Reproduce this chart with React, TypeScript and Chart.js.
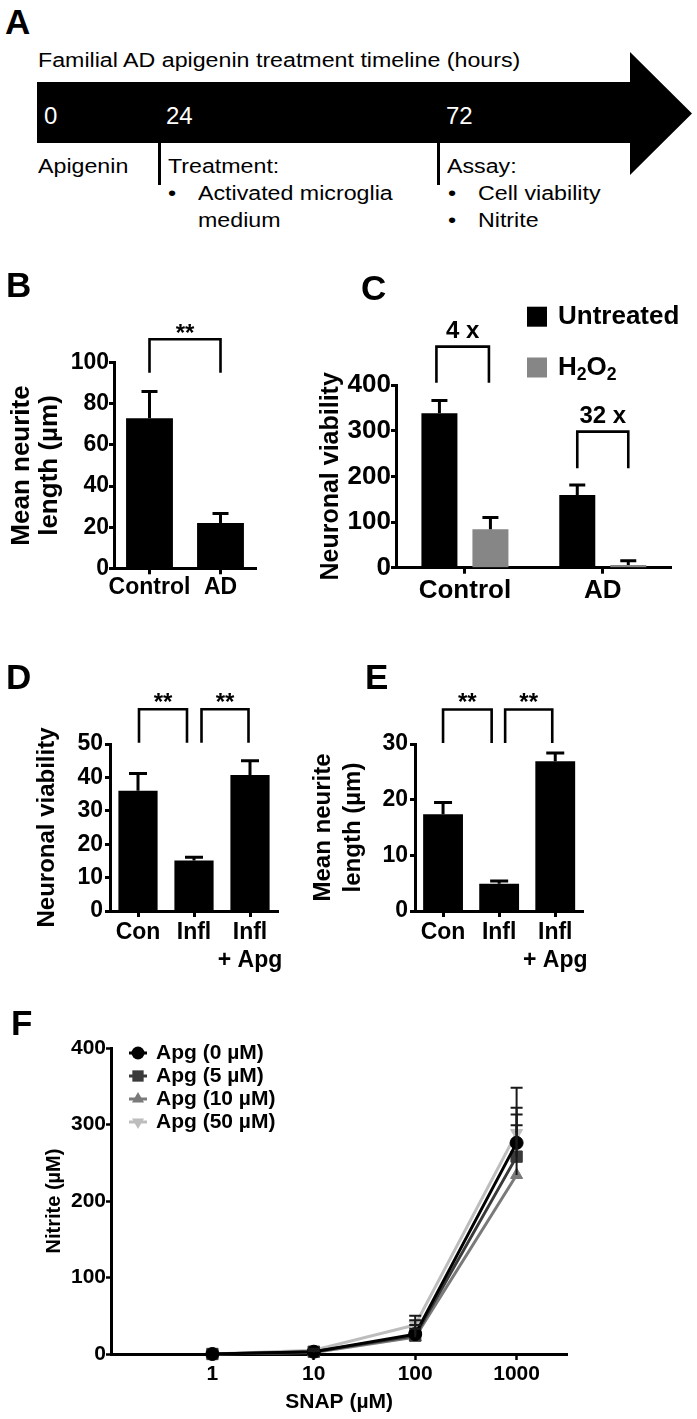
import React, { useEffect, useRef } from 'react';
import { Chart, registerables } from 'chart.js';

Chart.register(...registerables);

const FONT = '"Liberation Sans", Arial, Helvetica, sans-serif';
Chart.defaults.font.family = FONT;
const SUBSCRIPTS = '₀₁₂₃₄₅₆₇₈₉';

// ---------------- Data ----------------
const TIMELINE_TITLE = 'Familial AD apigenin treatment timeline (hours)';
const TIMELINE_HOURS = ['0', '24', '72'];

const B_CATEGORIES = ['Control', 'AD'];
const B_MEANS = [73, 22];
const B_ERR_TOPS = [86, 26.7];

const C_CATEGORIES = ['Control', 'AD'];
const C_SERIES = ['Untreated', 'H₂O₂'];
const C_UNTREATED = [338, 159];
const C_UNTREATED_ERR_TOPS = [366, 181];
const C_H2O2 = [84, 6];
const C_H2O2_ERR_TOPS = [110, 15];

const DE_CATEGORIES = ['Con', 'Infl', ['Infl', '+ Apg']];
const D_MEANS = [36, 15.1, 40.7];
const D_ERR_TOPS = [41.2, 16.1, 45];
const E_MEANS = [17.4, 4.9, 26.9];
const E_ERR_TOPS = [19.5, 5.4, 28.4];

const F_SNAP = [1, 10, 100, 1000];
const F_SERIES = ['Apg (0 µM)', 'Apg (5 µM)', 'Apg (10 µM)', 'Apg (50 µM)'];
const F_APG_0 = [0, 3, 26, 276];
const F_APG_5 = [0, 3, 24, 258];
const F_APG_10 = [0, 2, 22, 234];
const F_APG_50 = [0, 5, 38, 289];
const F_APG_0_ERR_TOPS = [0, 5, 44, 322];
const F_APG_5_ERR_TOPS = [0, 4, 38, 313];
const F_APG_10_ERR_TOPS = [0, 4, 33, 299];
const F_APG_50_ERR_TOPS = [0, 7, 50, 348];

// significance brackets (in data units)
const B_BRACKETS = [{ from: [0, 0], to: [0, 1], top: 111.4, bottom: 95.1, label: '**' }];
const C_BRACKETS = [
  { from: [0, 0], to: [1, 0], top: 484, bottom: 405, label: '4 x' },
  { from: [0, 1], to: [1, 1], top: 298, bottom: 218, label: '32 x' },
];
const D_BRACKETS = [
  { from: [0, 0], to: [0, 1], top: 60.4, bottom: 50.4, label: '**' },
  { from: [0, 1], to: [0, 2], top: 60.4, bottom: 50.4, label: '**' },
];
const E_BRACKETS = [
  { from: [0, 0], to: [0, 1], top: 36.2, bottom: 30.2, label: '**' },
  { from: [0, 1], to: [0, 2], top: 36.2, bottom: 30.2, label: '**' },
];

// ---------------- Layout ----------------
type Box = { left: number; top: number; width: number; height: number };
type Area = { left: number; top: number; right: number; bottom: number };

const B_BOX: Box = { left: 0, top: 300, width: 270, height: 300 };
const B_AREA: Area = { left: 114, top: 362.7, right: 256, bottom: 568.3 };
const C_BOX: Box = { left: 300, top: 290, width: 397, height: 310 };
const C_AREA: Area = { left: 396, top: 385, right: 671.7, bottom: 567.7 };
const D_BOX: Box = { left: 0, top: 640, width: 300, height: 340 };
const D_AREA: Area = { left: 110, top: 744, right: 278, bottom: 911 };
const E_BOX: Box = { left: 300, top: 640, width: 300, height: 340 };
const E_AREA: Area = { left: 415, top: 744, right: 583.3, bottom: 911 };
const F_BOX: Box = { left: 0, top: 1000, width: 697, height: 419 };
const F_AREA: Area = { left: 111, top: 1048, right: 567.3, bottom: 1354 };

function frameOf(box: Box, area: Area) {
  return {
    padding: { left: 0, top: area.top - box.top, right: box.left + box.width - area.right, bottom: 0 },
    yWidth: area.left - box.left,
    xHeight: box.top + box.height - area.bottom,
  };
}

const boldFont = (size: number, lineHeight = 1.2) => ({ family: FONT, size, weight: 'bold' as const, lineHeight });

// ---------------- Plugins ----------------
function drawRich(ctx: CanvasRenderingContext2D, text: string, x: number, y: number, size: number) {
  let cx = x;
  for (const ch of Array.from(text)) {
    const s = SUBSCRIPTS.indexOf(ch);
    if (s >= 0) {
      ctx.font = `bold ${size * 0.68}px ${FONT}`;
      ctx.fillText(String(s), cx, y + size * 0.3);
      cx += ctx.measureText(String(s)).width;
    } else {
      ctx.font = `bold ${size}px ${FONT}`;
      ctx.fillText(ch, cx, y);
      cx += ctx.measureText(ch).width;
    }
  }
}

function errorBarsPlugin(style: { lineWidth: number; capWidth: number; color: string }) {
  return {
    id: 'errorBars',
    afterDatasetsDraw(chart: any) {
      const ctx = chart.ctx;
      const yScale = chart.scales.y;
      chart.data.datasets.forEach((ds: any, di: number) => {
        const tops = ds.errorTops;
        if (!tops) return;
        const meta = chart.getDatasetMeta(di);
        ctx.save();
        ctx.strokeStyle = style.color;
        ctx.lineWidth = style.lineWidth;
        meta.data.forEach((el: any, i: number) => {
          const raw = ds.data[i];
          const v = typeof raw === 'number' ? raw : raw.y;
          const top = tops[i];
          if (top == null || top <= v) return;
          const x = el.x;
          const y0 = yScale.getPixelForValue(v);
          const y1 = yScale.getPixelForValue(top);
          const hw = style.capWidth / 2;
          ctx.beginPath();
          ctx.moveTo(x, y0);
          ctx.lineTo(x, y1);
          ctx.moveTo(x - hw, y1);
          ctx.lineTo(x + hw, y1);
          ctx.stroke();
        });
        ctx.restore();
      });
    },
  };
}

function bracketsPlugin(items: any[], style: { fontSize: number; labelGap: number; lineWidth: number; insets?: number[][] }) {
  return {
    id: 'brackets',
    afterDraw(chart: any) {
      const ctx = chart.ctx;
      const yScale = chart.scales.y;
      ctx.save();
      ctx.strokeStyle = '#000';
      ctx.fillStyle = '#000';
      ctx.lineWidth = style.lineWidth;
      ctx.font = `bold ${style.fontSize}px ${FONT}`;
      ctx.textAlign = 'center';
      ctx.textBaseline = 'alphabetic';
      items.forEach((it, k) => {
        const ins = style.insets ? style.insets[k] : [0, 0];
        const xa = chart.getDatasetMeta(it.from[0]).data[it.from[1]].x + ins[0];
        const xb = chart.getDatasetMeta(it.to[0]).data[it.to[1]].x - ins[1];
        const yt = yScale.getPixelForValue(it.top);
        const yb = yScale.getPixelForValue(it.bottom);
        ctx.beginPath();
        ctx.moveTo(xa, yb);
        ctx.lineTo(xa, yt);
        ctx.lineTo(xb, yt);
        ctx.lineTo(xb, yb);
        ctx.stroke();
        ctx.fillText(it.label, (xa + xb) / 2, yt - style.labelGap);
      });
      ctx.restore();
    },
  };
}

function boxLegendPlugin(cfg: { x: number; y: number; rowGap: number; box: number; textGap: number; fontSize: number }) {
  return {
    id: 'boxLegend',
    afterDraw(chart: any) {
      const ctx = chart.ctx;
      ctx.save();
      chart.data.datasets.forEach((ds: any, i: number) => {
        const cy = cfg.y + i * cfg.rowGap;
        ctx.fillStyle = ds.backgroundColor;
        ctx.fillRect(cfg.x, cy - cfg.box / 2, cfg.box, cfg.box);
        ctx.fillStyle = '#000';
        ctx.textAlign = 'left';
        ctx.textBaseline = 'middle';
        drawRich(ctx, ds.label, cfg.x + cfg.textGap, cy, cfg.fontSize);
      });
      ctx.restore();
    },
  };
}

function drawMarker(ctx: CanvasRenderingContext2D, style: string, r: number, rot: number, x: number, y: number, color: string) {
  ctx.save();
  ctx.fillStyle = color;
  ctx.translate(x, y);
  ctx.rotate((rot * Math.PI) / 180);
  ctx.beginPath();
  if (style === 'circle') {
    ctx.arc(0, 0, r, 0, Math.PI * 2);
  } else if (style === 'rect') {
    const s = r * Math.SQRT1_2;
    ctx.rect(-s, -s, 2 * s, 2 * s);
  } else {
    for (let k = 0; k < 3; k++) {
      const a = (k * 2 * Math.PI) / 3;
      const px = Math.sin(a) * r;
      const py = -Math.cos(a) * r;
      if (k === 0) ctx.moveTo(px, py);
      else ctx.lineTo(px, py);
    }
    ctx.closePath();
  }
  ctx.fill();
  ctx.restore();
}

function lineLegendPlugin(cfg: { dx: number; dy: number; rowGap: number; segment: number; textGap: number; fontSize: number }) {
  return {
    id: 'lineLegend',
    afterDraw(chart: any) {
      const ctx = chart.ctx;
      const { left, top } = chart.chartArea;
      ctx.save();
      chart.data.datasets.forEach((ds: any, i: number) => {
        const cx = left + cfg.dx;
        const cy = top + cfg.dy + i * cfg.rowGap;
        ctx.strokeStyle = ds.borderColor;
        ctx.lineWidth = 3;
        ctx.beginPath();
        ctx.moveTo(cx - cfg.segment / 2, cy);
        ctx.lineTo(cx + cfg.segment / 2, cy);
        ctx.stroke();
        drawMarker(ctx, ds.pointStyle, ds.pointRadius, ds.pointRotation || 0, cx, cy, ds.borderColor);
        ctx.fillStyle = '#000';
        ctx.textAlign = 'left';
        ctx.textBaseline = 'middle';
        ctx.font = `bold ${cfg.fontSize}px ${FONT}`;
        ctx.fillText(ds.label, cx + cfg.textGap, cy);
      });
      ctx.restore();
    },
  };
}

// ---------------- Chart configs ----------------
function barConfig(p: {
  box: Box; area: Area; labels: any[]; datasets: any[];
  yMax: number; yStep: number; tickSize: number; xPad: number; yPad: number;
  title: string | string[]; titleSize: number; titleLH: number; titlePad: number;
  plugins: any[];
}) {
  const f = frameOf(p.box, p.area);
  return {
    type: 'bar',
    data: { labels: p.labels, datasets: p.datasets },
    options: {
      responsive: false,
      animation: false,
      devicePixelRatio: 1,
      events: [],
      layout: { padding: f.padding },
      plugins: { legend: { display: false }, tooltip: { enabled: false } },
      scales: {
        x: {
          type: 'category',
          offset: true,
          z: 1,
          grid: { display: true, drawOnChartArea: false, drawTicks: true, offset: false, tickLength: 6, tickWidth: 3, tickColor: '#000', color: '#000' },
          border: { display: true, color: '#000', width: 3 },
          ticks: { color: '#000', font: boldFont(p.tickSize), padding: p.xPad, maxRotation: 0, minRotation: 0, autoSkip: false },
          afterFit: (s: any) => { s.height = f.xHeight; },
        },
        y: {
          min: 0,
          max: p.yMax,
          ticks: { stepSize: p.yStep, color: '#000', font: boldFont(p.tickSize), padding: p.yPad },
          grid: { display: true, drawOnChartArea: false, drawTicks: true, tickLength: 5, tickWidth: 3, tickColor: '#000', color: '#000' },
          border: { display: true, color: '#000', width: 3 },
          title: { display: true, text: p.title, color: '#000', font: boldFont(p.titleSize, p.titleLH), padding: { top: p.titlePad, bottom: 0 } },
          afterFit: (s: any) => { s.width = f.yWidth; },
        },
      },
    },
    plugins: p.plugins,
  };
}

const makeB = () =>
  barConfig({
    box: B_BOX, area: B_AREA, labels: B_CATEGORIES,
    datasets: [{ label: 'Mean neurite length', data: B_MEANS, errorTops: B_ERR_TOPS, backgroundColor: '#000', borderWidth: 0, barPercentage: 0.66, categoryPercentage: 1 }],
    yMax: 100, yStep: 20, tickSize: 23, xPad: 0, yPad: 0,
    title: ['Mean neurite', 'length (µm)'], titleSize: 26, titleLH: 1.1, titlePad: 7.3,
    plugins: [errorBarsPlugin({ lineWidth: 3, capWidth: 16, color: '#000' }), bracketsPlugin(B_BRACKETS, { fontSize: 24, labelGap: -2, lineWidth: 2.6 })],
  });

const makeC = () =>
  barConfig({
    box: C_BOX, area: C_AREA, labels: C_CATEGORIES,
    datasets: [
      { label: C_SERIES[0], data: C_UNTREATED, errorTops: C_UNTREATED_ERR_TOPS, backgroundColor: '#000', borderWidth: 0, barPercentage: 0.706, categoryPercentage: 0.74 },
      { label: C_SERIES[1], data: C_H2O2, errorTops: C_H2O2_ERR_TOPS, backgroundColor: '#868686', borderWidth: 0, barPercentage: 0.706, categoryPercentage: 0.74 },
    ],
    yMax: 400, yStep: 100, tickSize: 26, xPad: 1.7, yPad: 0,
    title: 'Neuronal viability', titleSize: 25, titleLH: 1.2, titlePad: 16,
    plugins: [
      errorBarsPlugin({ lineWidth: 3, capWidth: 16, color: '#000' }),
      bracketsPlugin(C_BRACKETS, { fontSize: 24, labelGap: 9, lineWidth: 2.6, insets: [[-3, 1.5], [0, 0]] }),
      boxLegendPlugin({ x: 227, y: 26.7, rowGap: 50.8, box: 20, textGap: 31, fontSize: 26 }),
    ],
  });

const makeD = () =>
  barConfig({
    box: D_BOX, area: D_AREA, labels: DE_CATEGORIES,
    datasets: [{ label: 'Neuronal viability', data: D_MEANS, errorTops: D_ERR_TOPS, backgroundColor: '#000', borderWidth: 0, barPercentage: 0.7, categoryPercentage: 1 }],
    yMax: 50, yStep: 10, tickSize: 23, xPad: 1.9, yPad: 2,
    title: 'Neuronal viability', titleSize: 24, titleLH: 1.2, titlePad: 33,
    plugins: [errorBarsPlugin({ lineWidth: 3, capWidth: 18, color: '#000' }), bracketsPlugin(D_BRACKETS, { fontSize: 24, labelGap: -1, lineWidth: 2.6, insets: [[1, 7], [7.5, 1.5]] })],
  });

const makeE = () =>
  barConfig({
    box: E_BOX, area: E_AREA, labels: DE_CATEGORIES,
    datasets: [{ label: 'Mean neurite length', data: E_MEANS, errorTops: E_ERR_TOPS, backgroundColor: '#000', borderWidth: 0, barPercentage: 0.71, categoryPercentage: 1 }],
    yMax: 30, yStep: 10, tickSize: 23, xPad: 1.9, yPad: 2,
    title: ['Mean neurite', 'length (µm)'], titleSize: 24, titleLH: 1.25, titlePad: 8.5,
    plugins: [errorBarsPlugin({ lineWidth: 3, capWidth: 18, color: '#000' }), bracketsPlugin(E_BRACKETS, { fontSize: 24, labelGap: -1, lineWidth: 2.6, insets: [[0, 7.5], [6, 3]] })],
  });

const F_MEANS = [F_APG_0, F_APG_5, F_APG_10, F_APG_50];
const F_ERR_TOPS = [F_APG_0_ERR_TOPS, F_APG_5_ERR_TOPS, F_APG_10_ERR_TOPS, F_APG_50_ERR_TOPS];
const F_COLORS = ['#000000', '#3a3a3a', '#7a7a7a', '#bdbdbd'];
const F_MARKERS = [
  { pointStyle: 'circle', pointRadius: 6.5, pointRotation: 0 },
  { pointStyle: 'rect', pointRadius: 8, pointRotation: 0 },
  { pointStyle: 'triangle', pointRadius: 7, pointRotation: 0 },
  { pointStyle: 'triangle', pointRadius: 7, pointRotation: 180 },
];

const makeF = () => {
  const f = frameOf(F_BOX, F_AREA);
  return {
    type: 'line',
    data: {
      datasets: F_SERIES.map((label, k) => ({
        label,
        data: F_SNAP.map((x, i) => ({ x, y: F_MEANS[k][i] })),
        errorTops: F_ERR_TOPS[k],
        borderColor: F_COLORS[k],
        backgroundColor: F_COLORS[k],
        pointBackgroundColor: F_COLORS[k],
        pointBorderColor: F_COLORS[k],
        pointBorderWidth: 1,
        borderWidth: 3,
        tension: 0,
        clip: false,
        ...F_MARKERS[k],
      })),
    },
    options: {
      responsive: false,
      animation: false,
      devicePixelRatio: 1,
      events: [],
      layout: { padding: f.padding },
      plugins: { legend: { display: false }, tooltip: { enabled: false } },
      scales: {
        x: {
          type: 'logarithmic',
          min: 0.1,
          max: 3162,
          z: 1,
          afterBuildTicks: (s: any) => { s.ticks = F_SNAP.map((v) => ({ value: v })); },
          ticks: { callback: (v: any) => String(v), autoSkip: false, maxRotation: 0, minRotation: 0, color: '#000', font: boldFont(21), padding: 1.4 },
          grid: { display: true, drawOnChartArea: false, drawTicks: true, tickLength: 6, tickWidth: 2.5, tickColor: '#000', color: '#000' },
          border: { display: true, color: '#000', width: 3 },
          title: { display: true, text: 'SNAP (µM)', color: '#000', font: boldFont(21), padding: { top: 0, bottom: 4.3 } },
          afterFit: (s: any) => { s.height = f.xHeight; },
        },
        y: {
          min: 0,
          max: 400,
          ticks: { stepSize: 100, color: '#000', font: boldFont(21), padding: 0 },
          grid: { display: true, drawOnChartArea: false, drawTicks: true, tickLength: 5, tickWidth: 2.5, tickColor: '#000', color: '#000' },
          border: { display: true, color: '#000', width: 3 },
          title: { display: true, text: 'Nitrite (µM)', color: '#000', font: boldFont(20), padding: { top: 42.8, bottom: 0 } },
          afterFit: (s: any) => { s.width = f.yWidth; },
        },
      },
    },
    plugins: [
      errorBarsPlugin({ lineWidth: 2, capWidth: 12, color: '#1a1a1a' }),
      lineLegendPlugin({ dx: 27, dy: 5, rowGap: 23, segment: 18, textGap: 18, fontSize: 21 }),
    ],
  };
};

// ---------------- Components ----------------
function ChartCanvas({ box, make }: { box: Box; make: () => any }) {
  const ref = useRef<HTMLCanvasElement | null>(null);
  useEffect(() => {
    if (!ref.current) return;
    const chart = new Chart(ref.current, make() as any);
    return () => chart.destroy();
  }, []);
  return (
    <canvas
      ref={ref}
      width={box.width}
      height={box.height}
      style={{ position: 'absolute', left: box.left, top: box.top, width: box.width, height: box.height }}
    />
  );
}

function Txt(props: { x: number; baseline: number; size: number; bold?: boolean; color?: string; sx?: number; children: React.ReactNode }) {
  const { x, baseline, size, bold, color, sx, children } = props;
  return (
    <div
      style={{
        position: 'absolute',
        left: x,
        top: baseline - 0.8465 * size,
        fontFamily: FONT,
        fontSize: size,
        lineHeight: `${size}px`,
        fontWeight: bold ? 700 : 400,
        color: color ?? '#000',
        whiteSpace: 'nowrap',
        transform: sx ? `scaleX(${sx})` : undefined,
        transformOrigin: '0 50%',
      }}
    >
      {children}
    </div>
  );
}

function Timeline() {
  const sx = 1.16;
  const fs = 20;
  return (
    <>
      <Txt x={38} baseline={67} size={fs} sx={sx}>{TIMELINE_TITLE}</Txt>
      <div
        style={{
          position: 'absolute', left: 37, top: 52, width: 655, height: 123, background: '#000',
          clipPath: 'polygon(0px 30px, 593px 30px, 593px 0px, 655px 61.5px, 593px 123px, 593px 91px, 0px 91px)',
        }}
      />
      <Txt x={44} baseline={124} size={24} color="#fff">{TIMELINE_HOURS[0]}</Txt>
      <Txt x={166} baseline={124} size={24} color="#fff">{TIMELINE_HOURS[1]}</Txt>
      <Txt x={446} baseline={124} size={24} color="#fff">{TIMELINE_HOURS[2]}</Txt>
      <div style={{ position: 'absolute', left: 157.5, top: 143, width: 3.5, height: 42, background: '#000' }} />
      <div style={{ position: 'absolute', left: 436.5, top: 143, width: 3.5, height: 42, background: '#000' }} />
      <Txt x={38} baseline={173} size={fs} sx={sx}>Apigenin</Txt>
      <Txt x={168} baseline={173} size={fs} sx={sx}>Treatment:</Txt>
      <Txt x={168} baseline={200} size={fs} sx={sx}>•</Txt>
      <Txt x={198} baseline={200} size={fs} sx={sx}>Activated microglia</Txt>
      <Txt x={198} baseline={227} size={fs} sx={sx}>medium</Txt>
      <Txt x={447} baseline={173} size={fs} sx={sx}>Assay:</Txt>
      <Txt x={448} baseline={200} size={fs} sx={sx}>•</Txt>
      <Txt x={478} baseline={200} size={fs} sx={sx}>Cell viability</Txt>
      <Txt x={448} baseline={227} size={fs} sx={sx}>•</Txt>
      <Txt x={478} baseline={227} size={fs} sx={sx}>Nitrite</Txt>
    </>
  );
}

export default function App() {
  return (
    <div style={{ position: 'absolute', left: 0, top: 0, width: 697, height: 1419, background: '#fff', overflow: 'hidden' }}>
      <Timeline />
      <ChartCanvas box={B_BOX} make={makeB} />
      <ChartCanvas box={C_BOX} make={makeC} />
      <ChartCanvas box={D_BOX} make={makeD} />
      <ChartCanvas box={E_BOX} make={makeE} />
      <ChartCanvas box={F_BOX} make={makeF} />
      <Txt x={5} baseline={34} size={35} bold>A</Txt>
      <Txt x={6} baseline={297} size={35} bold>B</Txt>
      <Txt x={361} baseline={300} size={35} bold>C</Txt>
      <Txt x={6} baseline={689} size={35} bold>D</Txt>
      <Txt x={365} baseline={689} size={35} bold>E</Txt>
      <Txt x={11} baseline={1035} size={35} bold>F</Txt>
    </div>
  );
}
